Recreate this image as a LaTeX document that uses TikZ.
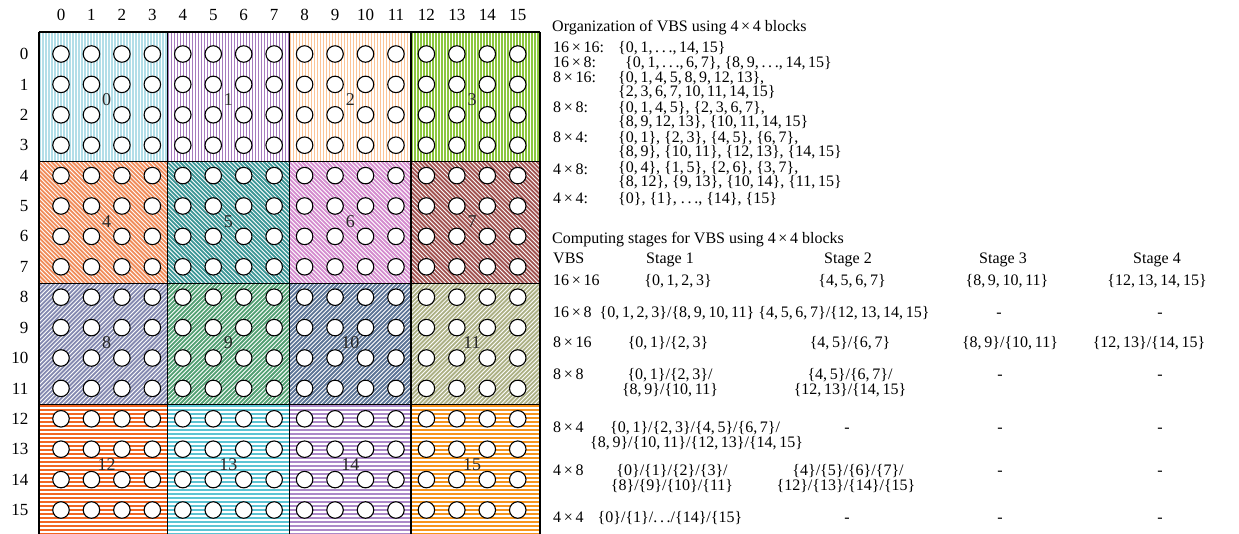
\documentclass[tikz,border=0pt]{standalone}
\usepackage{fontspec}
\setmainfont{Liberation Serif}
\newcommand\tm{\,×\,}
\newcommand\cc{,\,}
\newcommand\dts{.\,.\,.}
% stripe blocks: #1 x0, #2 y0, #3 x1, #4 y1, #5 colour, #6 kind (v,h,a,b), #7 width
\newcommand\stripeblock[7]{%
  \begin{scope}
    \clip (#1,#2) rectangle (#3,#4);
    \fill[white] (#1,#2) rectangle (#3,#4);
    \ifx v#6
      \foreach \k in {0,...,45} \draw[#5,line width=#7] ({#1+1+\k*3},#2) -- ({#1+1+\k*3},#4);
    \fi
    \ifx h#6
      \foreach \k in {0,...,34} \draw[#5,line width=#7] (#1,{#2+1.5+\k*4}) -- (#3,{#2+1.5+\k*4});
    \fi
    \ifx a#6
      \foreach \k in {0,...,64} \draw[#5,line width=#7] ({#1-135+\k*4.2},#2) -- ({#1-135+\k*4.2+135},{#2+135});
    \fi
    \ifx b#6
      \foreach \k in {0,...,64} \draw[#5,line width=#7] ({#1-135+\k*4.2},#4) -- ({#1-135+\k*4.2+135},{#4-135});
    \fi
  \end{scope}}
\definecolor{k0}{RGB}{178,222,232}
\definecolor{k1}{RGB}{166,122,190}
\definecolor{k2}{RGB}{252,196,150}
\definecolor{k3}{RGB}{140,198,63}
\definecolor{k4}{RGB}{240,140,90}
\definecolor{k5}{RGB}{60,150,150}
\definecolor{k6}{RGB}{212,140,206}
\definecolor{k7}{RGB}{160,82,80}
\definecolor{k8}{RGB}{132,137,176}
\definecolor{k9}{RGB}{82,160,115}
\definecolor{k10}{RGB}{92,116,150}
\definecolor{k11}{RGB}{172,176,132}
\definecolor{k12}{RGB}{242,101,34}
\definecolor{k13}{RGB}{92,196,212}
\definecolor{k14}{RGB}{172,137,200}
\definecolor{k15}{RGB}{247,148,29}
\begin{document}
\begin{tikzpicture}[x=1pt,y=-1pt,
  circ/.style={circle,draw=black,fill=white,line width=1.1pt,minimum size=16.5pt,inner sep=0pt},
  axis/.style={font=\fontsize{17}{17}\selectfont,inner sep=0pt},
  blab/.style={font=\fontsize{18}{18}\selectfont,inner sep=0pt,text=black!85},
  txt/.style={font=\fontsize{16}{16}\selectfont,inner sep=0pt,anchor=base west},
  ctr/.style={font=\fontsize{16}{16}\selectfont,inner sep=0pt,anchor=base},
  border/.style={draw=black,line width=1.2pt}]
\clip (0,0) rectangle (1239,533);
\fill[white] (0,0) rectangle (1239,533);
% block stripes
\def\xa{39}\def\xb{167.5}\def\xc{289.5}\def\xd{411}\def\xe{540}
\def\ya{32}\def\yb{161.5}\def\yc{283.5}\def\yd{404.5}\def\ye{536}
\stripeblock{\xa}{\ya}{\xb}{\yb}{k0}{v}{1.6pt}
\stripeblock{\xb}{\ya}{\xc}{\yb}{k1}{v}{1.9pt}
\stripeblock{\xc}{\ya}{\xd}{\yb}{k2}{v}{1.6pt}
\stripeblock{\xd}{\ya}{\xe}{\yb}{k3}{v}{1.9pt}
\stripeblock{\xa}{\yb}{\xb}{\yc}{k4}{a}{1.8pt}
\stripeblock{\xb}{\yb}{\xc}{\yc}{k5}{a}{1.8pt}
\stripeblock{\xc}{\yb}{\xd}{\yc}{k6}{a}{1.8pt}
\stripeblock{\xd}{\yb}{\xe}{\yc}{k7}{a}{1.8pt}
\stripeblock{\xa}{\yc}{\xb}{\yd}{k8}{b}{1.8pt}
\stripeblock{\xb}{\yc}{\xc}{\yd}{k9}{b}{1.8pt}
\stripeblock{\xc}{\yc}{\xd}{\yd}{k10}{b}{1.8pt}
\stripeblock{\xd}{\yc}{\xe}{\yd}{k11}{b}{1.8pt}
\stripeblock{\xa}{\yd}{\xb}{\ye}{k12}{h}{2.4pt}
\stripeblock{\xb}{\yd}{\xc}{\ye}{k13}{h}{2.4pt}
\stripeblock{\xc}{\yd}{\xd}{\ye}{k14}{h}{2.4pt}
\stripeblock{\xd}{\yd}{\xe}{\ye}{k15}{h}{2.4pt}
% borders
\foreach \u in {\xa,\xb,\xc,\xd,\xe} \draw[border] (\u,\ya) -- (\u,\ye);
\foreach \v in {\ya,\yb,\yc,\yd} \draw[border] (\xa,\v) -- (\xe,\v);
% circles
\foreach \i in {0,...,15}{
  \foreach \j in {0,...,15}{
    \node[circ] (c-\i-\j) at ({61+30.45*\j},{54+30.4*\i}) {};
  }
}
% block labels
\foreach \b in {0,...,15}{
  \pgfmathtruncatemacro\ra{int(\b/4)}
  \pgfmathtruncatemacro\ca{mod(\b,4)}
  \node[blab] (b\b) at ({61+30.45*(4*\ca+1.5)},{54+30.4*(4*\ra+1.5)}) {\b};
}
% axes
\foreach \i in {0,...,15}{
  \node[axis,anchor=east] (r\i) at (28.5,{54+30.4*\i}) {\i};
  \node[axis] (k\i) at ({61+30.45*\i},15) {\i};
}
% organization text
\node[txt] (org) at (552,31) {Organization of VBS using 4\tm4 blocks};
\node[txt] (o1l) at (553,52) {16\tm16:};
\node[txt] (o1r) at (618,52) {\{0\cc1\cc\dts\cc14\cc15\}};
\node[txt] (o2l) at (553,67) {16\tm8:};
\node[txt] (o2r) at (625,67) {\{0\cc1\cc\dts\cc6\cc7\}, \{8\cc9\cc\dts\cc14\cc15\}};
\node[txt] (o3l) at (553,82) {8\tm16:};
\node[txt] (o3r) at (618,82) {\{0\cc1\cc4\cc5\cc8\cc9\cc12\cc13\},};
\node[txt] (o3s) at (618,96.5) {\{2\cc3\cc6\cc7\cc10\cc11\cc14\cc15\}};
\node[txt] (o4l) at (553,112) {8\tm8:};
\node[txt] (o4r) at (618,112) {\{0\cc1\cc4\cc5\}, \{2\cc3\cc6\cc7\},};
\node[txt] (o4s) at (618,126.5) {\{8\cc9\cc12\cc13\}, \{10\cc11\cc14\cc15\}};
\node[txt] (o5l) at (553,142) {8\tm4:};
\node[txt] (o5r) at (618,142) {\{0\cc1\}, \{2\cc3\}, \{4\cc5\}, \{6\cc7\},};
\node[txt] (o5s) at (618,156.5) {\{8\cc9\}, \{10\cc11\}, \{12\cc13\}, \{14\cc15\}};
\node[txt] (o6l) at (553,174) {4\tm8:};
\node[txt] (o6r) at (618,172) {\{0\cc4\}, \{1\cc5\}, \{2\cc6\}, \{3\cc7\},};
\node[txt] (o6s) at (618,186.5) {\{8\cc12\}, \{9\cc13\}, \{10\cc14\}, \{11\cc15\}};
\node[txt] (o7l) at (553,203) {4\tm4:};
\node[txt] (o7r) at (618,203) {\{0\}, \{1\}, \dts, \{14\}, \{15\}};
% computing stages
\node[txt] (cst) at (552,243) {Computing stages for VBS using 4\tm4 blocks};
\node[txt] (hv) at (553,263) {VBS};
\node[ctr] (h1) at (670,263) {Stage 1};
\node[ctr] (h2) at (848,263) {Stage 2};
\node[ctr] (h3) at (1003,263) {Stage 3};
\node[ctr] (h4) at (1157,263) {Stage 4};
% 16x16
\node[txt] (v1) at (553,285) {16\tm16};
\node[ctr] (v1a) at (678,285) {\{0\cc1\cc2\cc3\}};
\node[ctr] (v1b) at (852,285) {\{4\cc5\cc6\cc7\}};
\node[ctr] (v1c) at (1007,285) {\{8\cc9\cc10\cc11\}};
\node[ctr] (v1d) at (1157,285) {\{12\cc13\cc14\cc15\}};
% 16x8
\node[txt] (v2) at (553,317) {16\tm8};
\node[ctr] (v2a) at (677,317) {\{0\cc1\cc2\cc3\}/\{8\cc9\cc10\cc11\}};
\node[ctr] (v2b) at (844,317) {\{4\cc5\cc6\cc7\}/\{12\cc13\cc14\cc15\}};
\node[ctr] (v2c) at (999,317) {-};
\node[ctr] (v2d) at (1160,317) {-};
% 8x16
\node[txt] (v3) at (553,347) {8\tm16};
\node[ctr] (v3a) at (668,347) {\{0\cc1\}/\{2\cc3\}};
\node[ctr] (v3b) at (850,347) {\{4\cc5\}/\{6\cc7\}};
\node[ctr] (v3c) at (1010,347) {\{8\cc9\}/\{10\cc11\}};
\node[ctr] (v3d) at (1149,347) {\{12\cc13\}/\{14\cc15\}};
% 8x8
\node[txt] (v4) at (553,379) {8\tm8};
\node[ctr] (v4a) at (670,379) {\{0\cc1\}/\{2\cc3\}/};
\node[ctr] (v4a2) at (670,394) {\{8\cc9\}/\{10\cc11\}};
\node[ctr] (v4b) at (850,379) {\{4\cc5\}/\{6\cc7\}/};
\node[ctr] (v4b2) at (850,394) {\{12\cc13\}/\{14\cc15\}};
\node[ctr] (v4c) at (1000,379) {-};
\node[ctr] (v4d) at (1160,379) {-};
% 8x4
\node[txt] (v5) at (553,432) {8\tm4};
\node[txt] (v5a) at (610,432) {\{0\cc1\}/\{2\cc3\}/\{4\cc5\}/\{6\cc7\}/};
\node[txt] (v5a2) at (590,447) {\{8\cc9\}/\{10\cc11\}/\{12\cc13\}/\{14\cc15\}};
\node[ctr] (v5b) at (847,432) {-};
\node[ctr] (v5c) at (1000,432) {-};
\node[ctr] (v5d) at (1160,432) {-};
% 4x8
\node[txt] (v6) at (553,475) {4\tm8};
\node[ctr] (v6a) at (672,475) {\{0\}/\{1\}/\{2\}/\{3\}/};
\node[ctr] (v6a2) at (672,490) {\{8\}/\{9\}/\{10\}/\{11\}};
\node[ctr] (v6b) at (848,475) {\{4\}/\{5\}/\{6\}/\{7\}/};
\node[ctr] (v6b2) at (846,490) {\{12\}/\{13\}/\{14\}/\{15\}};
\node[ctr] (v6c) at (1000,475) {-};
\node[ctr] (v6d) at (1160,475) {-};
% 4x4
\node[txt] (v7) at (553,522) {4\tm4};
\node[ctr] (v7a) at (670,522) {\{0\}/\{1\}/\dts/\{14\}/\{15\}};
\node[ctr] (v7b) at (847,522) {-};
\node[ctr] (v7c) at (1000,522) {-};
\node[ctr] (v7d) at (1160,522) {-};
\end{tikzpicture}
\end{document}
